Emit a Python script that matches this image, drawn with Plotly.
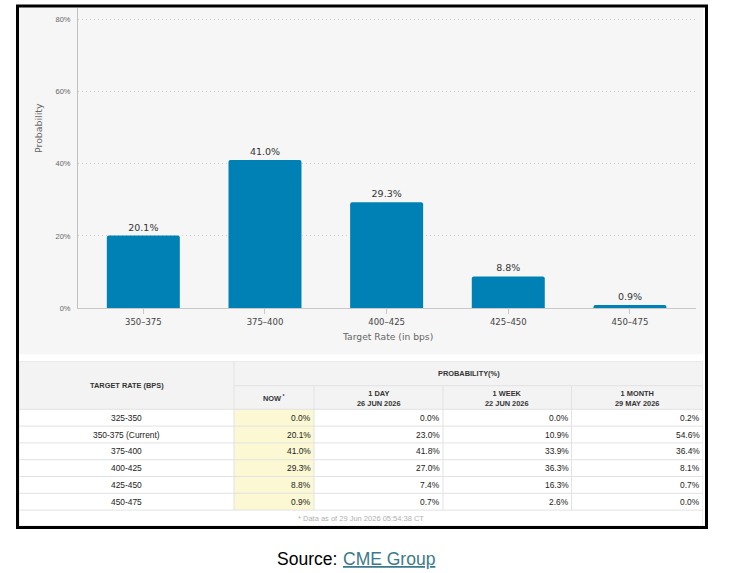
import plotly.graph_objects as go

W, H = 740, 573

# ---------------- data ----------------
bar_categories = ["350–375", "375–400", "400–425", "425–450", "450–475"]
bar_values = [20.1, 41.0, 29.3, 8.8, 0.9]
y_tick_values = [0, 20, 40, 60, 80]
y_tick_labels = ["0%", "20%", "40%", "60%", "80%"]

table_rates = ["325-350", "350-375 (Current)", "375-400", "400-425", "425-450", "450-475"]
prob_now = [0.0, 20.1, 41.0, 29.3, 8.8, 0.9]
prob_1day = [0.0, 23.0, 41.8, 27.0, 7.4, 0.7]
prob_1week = [0.0, 10.9, 33.9, 36.3, 16.3, 2.6]
prob_1month = [0.2, 54.6, 36.4, 8.1, 0.7, 0.0]
prob_columns = [prob_now, prob_1day, prob_1week, prob_1month]
col_headers = ["NOW<sup> *</sup>", "1 DAY<br>26 JUN 2026", "1 WEEK<br>22 JUN 2026", "1 MONTH<br>29 MAY 2026"]
rate_header = "TARGET RATE (BPS)"
prob_header = "PROBABILITY(%)"
footer_note = "* Data as of 29 Jun 2026 05:54:38 CT"

# ---------------- helpers / layout constants ----------------
def pxx(x):
    return x / W

def pxy(y):
    return 1 - y / H

CHART_FONT = "DejaVu Sans"
TABLE_FONT = "Liberation Sans, Arial"
BAR_COLOR = "#0081b5"

# table geometry (table-axis units)
col_edges = [0, 215, 295, 424, 552.5, 684]
h_row1, h_row2, h_body, h_foot = 24.7, 23.6, 16.8, 16.0
body_top = h_row1 + h_row2
body_bottom = body_top + h_body * len(table_rates)
table_bottom = body_bottom + h_foot
LINE_C = "#e2e2e2"

fig = go.Figure()

fig.add_trace(go.Bar(
    x=bar_categories, y=bar_values,
    marker=dict(color=BAR_COLOR, line=dict(width=0)),
    width=0.6,
    text=[f"{v:.1f}%" for v in bar_values],
    textposition="outside",
    textfont=dict(family=CHART_FONT, size=9.5, color="#333333"),
    cliponaxis=False,
    hoverinfo="skip",
    xaxis="x", yaxis="y",
))

# invisible anchor trace for the table axes
fig.add_trace(go.Scatter(x=[0, 684], y=[0, table_bottom], mode="markers",
                         marker=dict(opacity=0, size=1), hoverinfo="skip",
                         xaxis="x2", yaxis="y2", showlegend=False))

shapes = []
annotations = []

# chart background
shapes.append(dict(type="rect", xref="paper", yref="paper",
                   x0=pxx(19), x1=pxx(703), y0=pxy(354.3), y1=pxy(7.5),
                   fillcolor="#f6f6f6", line=dict(width=0), layer="below"))

# table backgrounds
shapes.append(dict(type="rect", xref="x2", yref="y2", x0=col_edges[0], x1=col_edges[-1],
                   y0=0, y1=body_top, fillcolor="#f3f3f3", line=dict(width=0), layer="below"))
shapes.append(dict(type="rect", xref="x2", yref="y2", x0=col_edges[1], x1=col_edges[2],
                   y0=body_top, y1=body_bottom, fillcolor="#fbf8d3", line=dict(width=0), layer="below"))

def hline(y, x0, x1):
    shapes.append(dict(type="line", xref="x2", yref="y2", x0=x0, x1=x1, y0=y, y1=y,
                       line=dict(color=LINE_C, width=1), layer="below"))

def vline(x, y0, y1):
    shapes.append(dict(type="line", xref="x2", yref="y2", x0=x, x1=x, y0=y0, y1=y1,
                       line=dict(color=LINE_C, width=1), layer="below"))

hline(h_row1, col_edges[1], col_edges[-1])
for i in range(len(table_rates) + 1):
    hline(body_top + h_body * i, col_edges[0], col_edges[-1])
vline(col_edges[1], 0, body_bottom)
for x in col_edges[2:-1]:
    vline(x, h_row1, body_bottom)
shapes.append(dict(type="rect", xref="x2", yref="y2", x0=col_edges[0], x1=col_edges[-1],
                   y0=0, y1=table_bottom, line=dict(color=LINE_C, width=1), layer="below"))

def tann(text, x, y, size, color="#333333", xanchor="center", bold=False):
    annotations.append(dict(text=(f"<b>{text}</b>" if bold else text), x=x, y=y,
                            xref="x2", yref="y2", xanchor=xanchor, yanchor="middle",
                            showarrow=False, borderpad=0, borderwidth=0,
                            font=dict(family=TABLE_FONT, size=size, color=color)))

# header texts
tann(rate_header, (col_edges[0] + col_edges[1]) / 2, body_top / 2, 7.4, bold=True)
tann(prob_header, (col_edges[1] + col_edges[-1]) / 2, h_row1 / 2, 7.4, bold=True)
for j, hdr in enumerate(col_headers):
    tann(hdr, (col_edges[j + 1] + col_edges[j + 2]) / 2, h_row1 + h_row2 / 2 + 0.5, 7.4, bold=True)

# body texts
for i, rate in enumerate(table_rates):
    yc = body_top + h_body * (i + 0.5)
    tann(rate, (col_edges[0] + col_edges[1]) / 2, yc, 8.4, color="#222222")
    for j, col in enumerate(prob_columns):
        tann(f"{col[i]:.1f}%", col_edges[j + 2] - 3, yc, 8.4, color="#222222", xanchor="right")

# footer
tann(footer_note, (col_edges[0] + col_edges[-1]) / 2, body_bottom + h_foot / 2, 7.5, color="#b0b0b0")

# chart axis titles
annotations.append(dict(text="Probability", x=pxx(38.3), y=pxy(127.7), xref="paper", yref="paper",
                        textangle=-90, showarrow=False, xanchor="center", yanchor="middle",
                        font=dict(family=CHART_FONT, size=9.4, color="#666666")))
annotations.append(dict(text="Target Rate (in bps)", x=pxx(387), y=pxy(336), xref="paper", yref="paper",
                        showarrow=False, xanchor="center", yanchor="middle",
                        font=dict(family=CHART_FONT, size=9.2, color="#666666")))

# source caption
annotations.append(dict(text="Source:", x=pxx(277.3), y=pxy(559.3), xref="paper", yref="paper",
                        showarrow=False, xanchor="left", yanchor="middle", borderpad=0, borderwidth=0,
                        font=dict(family="Liberation Sans, Arial", size=17.5, color="#000000")))
annotations.append(dict(text="CME Group", x=pxx(343.3), y=pxy(559.3), xref="paper", yref="paper",
                        showarrow=False, xanchor="left", yanchor="middle", borderpad=0, borderwidth=0,
                        font=dict(family="Liberation Sans, Arial", size=17.5, color="#3a7a8a",
                                  lineposition="under")))

# outer black frame
shapes.append(dict(type="rect", xref="paper", yref="paper",
                   x0=pxx(17.5), x1=pxx(706.5), y0=pxy(527.5), y1=pxy(6),
                   line=dict(color="#000000", width=3), layer="above"))

fig.update_layout(
    width=W, height=H,
    margin=dict(l=0, r=0, t=0, b=0, pad=0, autoexpand=False),
    paper_bgcolor="#ffffff",
    plot_bgcolor="rgba(0,0,0,0)",
    showlegend=False,
    barcornerradius=2,
    xaxis=dict(domain=[pxx(78), pxx(696)], range=[-0.537, 4.543], anchor="y",
               showline=True, linecolor="#c8c8c8", linewidth=1,
               ticks="outside", ticklen=5, tickcolor="#c8c8c8",
               showgrid=False, zeroline=False,
               tickfont=dict(family=CHART_FONT, size=8.5, color="#444444"),
               fixedrange=True),
    yaxis=dict(domain=[pxy(308.3), pxy(7.5)], range=[0, 83.18], anchor="x",
               tickmode="array", tickvals=y_tick_values, ticktext=y_tick_labels,
               showline=True, linecolor="#c0c0c0", linewidth=1,
               showgrid=True, gridcolor="#d0d0d0", griddash="1px,3px", gridwidth=1,
               zeroline=False, ticks="", ticklabelstandoff=5,
               tickfont=dict(family="Liberation Sans, Arial", size=7.5, color="#666666"),
               fixedrange=True),
    xaxis2=dict(domain=[pxx(19), pxx(703)], range=[0, 684], anchor="y2", visible=False,
                fixedrange=True),
    yaxis2=dict(domain=[pxy(361 + table_bottom), pxy(361)], range=[table_bottom, 0], anchor="x2",
                visible=False, fixedrange=True),
    shapes=shapes,
    annotations=annotations,
)

fig.write_html("out.html", config={"displayModeBar": False})
